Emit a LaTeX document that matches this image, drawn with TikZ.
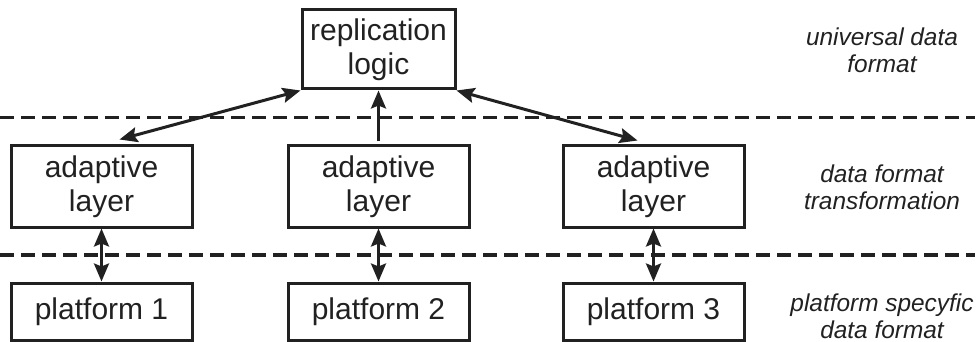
\documentclass[tikz,border=0pt]{standalone}
\usepackage{fontspec}
\setmainfont{Liberation Sans}
\usetikzlibrary{arrows.meta}
\definecolor{ink}{gray}{0.13}
\begin{document}
\begin{tikzpicture}[x=0.5pt,y=-0.5pt,
  box/.style={draw=ink,line width=1.5pt,rectangle,inner sep=0pt,align=center,
    font=\fontsize{15}{17}\selectfont,text=ink},
  toplayer/.style={box,minimum width=76.5pt,minimum height=39.5pt},
  midlayer/.style={box,minimum width=90.5pt,minimum height=40.5pt},
  botlayer/.style={box,minimum width=90.5pt,minimum height=28.5pt},
  note/.style={align=center,font=\fontsize{12.2}{13.5}\selectfont\itshape,text=ink},
  tip/.style={Stealth[length=9pt,width=7.5pt,inset=1.5pt]},
  link/.style={draw=ink,line width=1.5pt,{Stealth[length=9pt,width=7.5pt,inset=1.5pt]}-{Stealth[length=9pt,width=7.5pt,inset=1.5pt]}},
  uplink/.style={draw=ink,line width=1.5pt,-{Stealth[length=9pt,width=7.5pt,inset=1.5pt]}},
  divider/.style={draw=ink,line width=1.6pt,dash pattern=on 7pt off 3.5pt}]
\useasboundingbox (0,0) rectangle (980,342);

% boxes
\node[toplayer] (rep) at (378.5,49.5) {replication\\logic};
\node[midlayer] (ad1) at (101.5,186.5) {adaptive\\layer};
\node[midlayer] (ad2) at (378.5,186.5) {adaptive\\layer};
\node[midlayer] (ad3) at (653.5,186.5) {adaptive\\layer};
\node[botlayer] (pf1) at (101.5,311.5) {platform 1};
\node[botlayer] (pf2) at (378.5,311.5) {platform 2};
\node[botlayer] (pf3) at (653.5,311.5) {platform 3};

% level descriptions
\node[note] (n1) at (882,50) {universal data\\format};
\node[note] (n2) at (882,187) {data format\\transformation};
\node[note] (n3) at (882,316) {platform specyfic\\data format};

% level dividers
\coordinate (d1a) at (0,117.5);
\coordinate (d1b) at (975,117.5);
\coordinate (d2a) at (0,255);
\coordinate (d2b) at (975,255);
\draw[divider] (d1a) -- (d1b);
\draw[divider] (d2a) -- (d2b);

% connectors
\draw[link] (rep.south west) -- ([xshift=9pt,yshift=2.5pt]ad1.north);
\draw[uplink] ([yshift=1.5pt]ad2.north) -- (rep.south -| ad2.north);
\draw[link] (rep.south east) -- ([xshift=-8pt,yshift=2pt]ad3.north);
\draw[link] (ad1.south) -- (pf1.north);
\draw[link] (ad2.south) -- (pf2.north);
\draw[link] (ad3.south) -- (pf3.north);
\end{tikzpicture}
\end{document}
